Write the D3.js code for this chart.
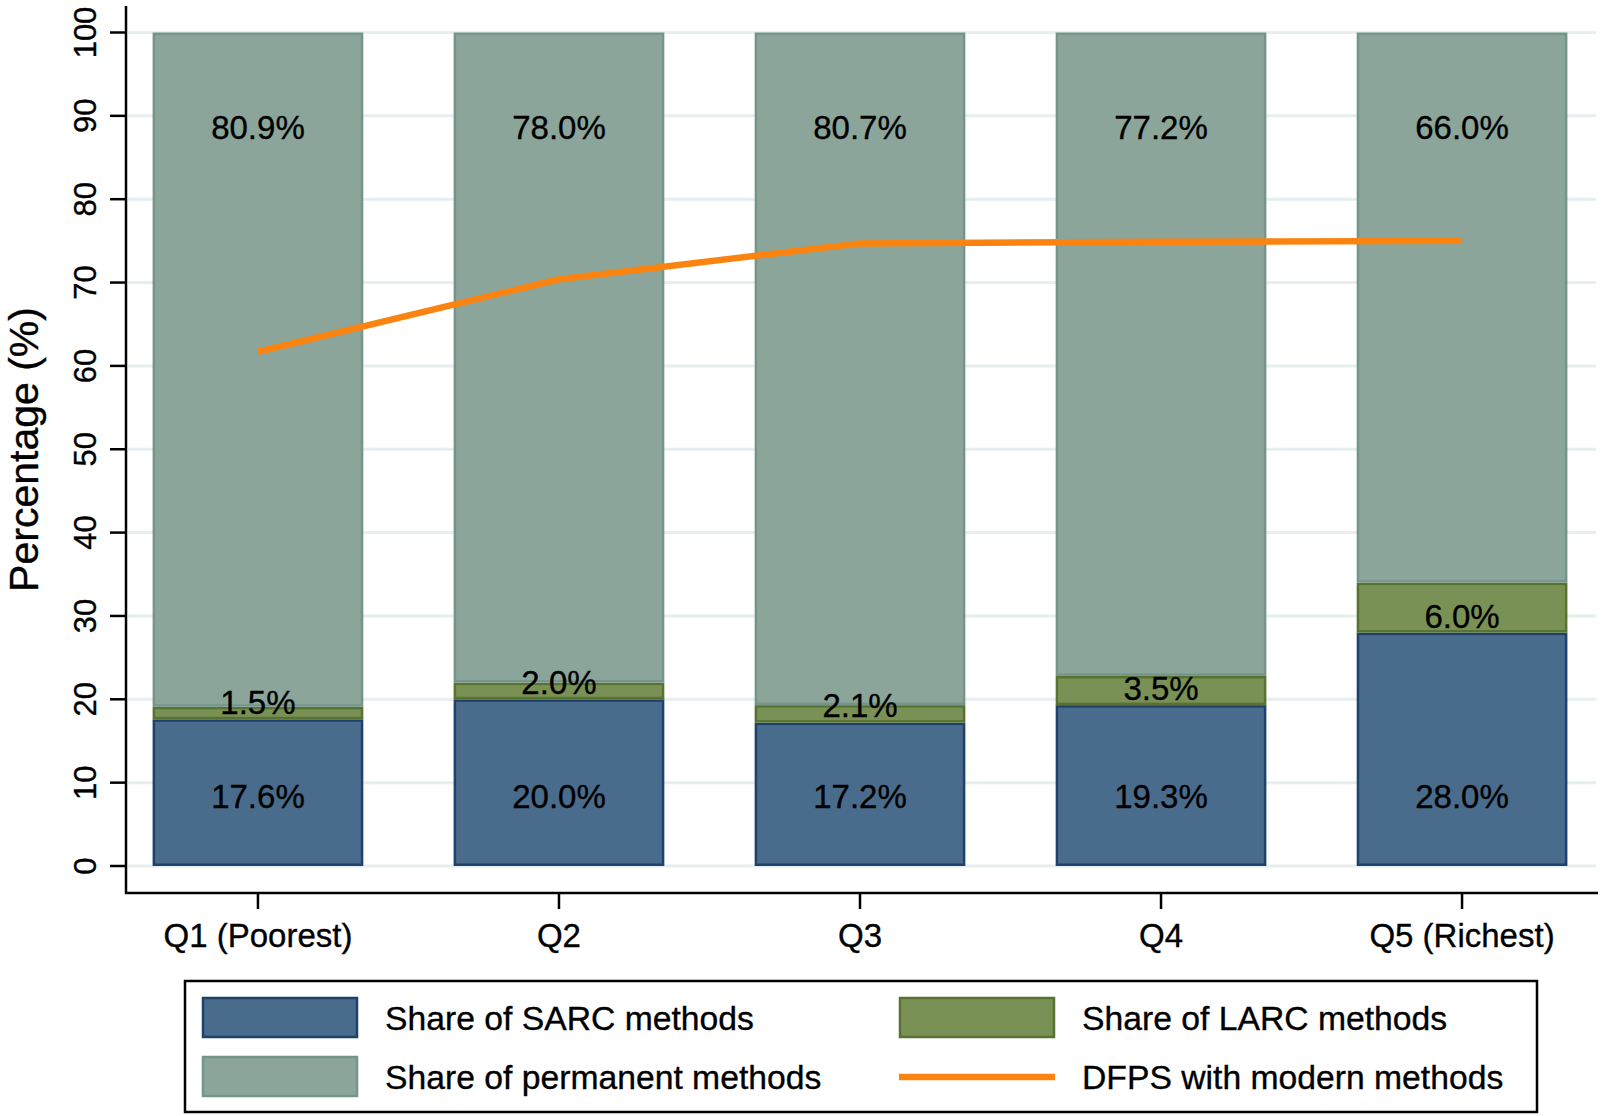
<!DOCTYPE html>
<html>
<head>
<meta charset="utf-8">
<script src="https://cdn.jsdelivr.net/npm/d3@7"></script>
<style>
  html, body { margin: 0; padding: 0; background: #ffffff; }
  svg { display: block; }
  text { font-family: "Liberation Sans", Arial, Helvetica, sans-serif; fill: #000; stroke: #000; stroke-width: 0.35px; }
</style>
</head>
<body>
<svg id="chart" width="1601" height="1116"></svg>
<script>
// ---- Data ----
const categories = ["Q1 (Poorest)", "Q2", "Q3", "Q4", "Q5 (Richest)"];
const sarcShare = [17.6, 20.0, 17.2, 19.3, 28.0];
const larcShare = [1.5, 2.0, 2.1, 3.5, 6.0];
const permanentShare = [80.9, 78.0, 80.7, 77.2, 66.0];
const dfpsModern = [61.7, 70.4, 74.7, 74.9, 75.0];
const yTicks = [0, 10, 20, 30, 40, 50, 60, 70, 80, 90, 100];
// label anchor values (data units) as placed in the original figure
const sarcLabelAt = 8.4;
const permanentLabelAt = 88.6;
const larcLabelAt = [19.7, 22.0, 19.3, 21.3, 30.0];
const legendItems = [
  { label: "Share of SARC methods", type: "bar", key: "sarc" },
  { label: "Share of LARC methods", type: "bar", key: "larc" },
  { label: "Share of permanent methods", type: "bar", key: "perm" },
  { label: "DFPS with modern methods", type: "line", key: "dfps" }
];

// ---- Styles ----
const fills = { sarc: "#496b8c", larc: "#7a9156", perm: "#8ba59a" };
const strokes = { sarc: "#1f426c", larc: "#587330", perm: "#76958a" };
const lineColor = "#fb8411";
const gridColor = "#e7eef0";

const svg = d3.select("#chart");

const y = d3.scaleLinear().domain([0, 100]).range([866, 32.5]);
const x = d3.scaleBand().domain(categories).range([124, 1596])
  .paddingInner(0.3).paddingOuter(0.095);

// gridlines
svg.append("g").selectAll("line").data(yTicks).join("line")
  .attr("x1", 128).attr("x2", 1596)
  .attr("y1", d => y(d)).attr("y2", d => y(d))
  .attr("stroke", gridColor).attr("stroke-width", 3);

// stacked data
const rows = categories.map((c, i) => ({
  cat: c, sarc: sarcShare[i], larc: larcShare[i], perm: permanentShare[i]
}));
const stack = d3.stack().keys(["sarc", "larc", "perm"]);
const series = stack(rows);

const sw = 2.5;
svg.append("g").selectAll("g").data(series).join("g")
  .attr("fill", s => fills[s.key])
  .attr("stroke", s => strokes[s.key])
  .attr("stroke-width", sw)
  .selectAll("rect").data(s => s).join("rect")
  .attr("x", d => x(d.data.cat) + sw / 2)
  .attr("width", x.bandwidth() - sw)
  .attr("y", d => y(d[1]) + sw / 2)
  .attr("height", d => Math.max(0, y(d[0]) - y(d[1]) - sw));

// line
const line = d3.line()
  .x((d, i) => x(categories[i]) + x.bandwidth() / 2)
  .y(d => y(d));
svg.append("path").datum(dfpsModern)
  .attr("d", line)
  .attr("fill", "none")
  .attr("stroke", lineColor)
  .attr("stroke-width", 6.5)
  .attr("stroke-linejoin", "round");

// bar labels
const labelFont = 33;
const capOff = labelFont * 0.358;
const fmt = v => v.toFixed(1) + "%";
const lbl = svg.append("g").attr("font-size", labelFont).attr("text-anchor", "middle");
categories.forEach((c, i) => {
  const cx = x(c) + x.bandwidth() / 2;
  lbl.append("text").attr("x", cx).attr("y", y(permanentLabelAt) + capOff).text(fmt(permanentShare[i]));
  lbl.append("text").attr("x", cx).attr("y", y(sarcLabelAt) + capOff).text(fmt(sarcShare[i]));
  lbl.append("text").attr("x", cx).attr("y", y(larcLabelAt[i]) + capOff).text(fmt(larcShare[i]));
});

// y axis
svg.append("line").attr("x1", 126).attr("x2", 126).attr("y1", 6).attr("y2", 894)
  .attr("stroke", "#000").attr("stroke-width", 2.5);
const yAxisG = svg.append("g");
yAxisG.selectAll("line").data(yTicks).join("line")
  .attr("x1", 110).attr("x2", 126)
  .attr("y1", d => y(d)).attr("y2", d => y(d))
  .attr("stroke", "#000").attr("stroke-width", 2.5);
yAxisG.selectAll("text").data(yTicks).join("text")
  .attr("transform", d => `translate(96,${y(d)}) rotate(-90)`)
  .attr("text-anchor", "middle")
  .attr("font-size", 31)
  .text(d => d);

svg.append("text")
  .attr("transform", `translate(38,449.5) rotate(-90)`)
  .attr("text-anchor", "middle")
  .attr("font-size", 41)
  .text("Percentage (%)");

// x axis
svg.append("line").attr("x1", 125).attr("x2", 1598).attr("y1", 893).attr("y2", 893)
  .attr("stroke", "#000").attr("stroke-width", 2.5);
const xAxisG = svg.append("g");
categories.forEach(c => {
  const cx = x(c) + x.bandwidth() / 2;
  xAxisG.append("line").attr("x1", cx).attr("x2", cx).attr("y1", 893).attr("y2", 909)
    .attr("stroke", "#000").attr("stroke-width", 2.5);
  xAxisG.append("text").attr("x", cx).attr("y", 947)
    .attr("text-anchor", "middle").attr("font-size", 33).text(c);
});

// legend
const lg = svg.append("g");
lg.append("rect").attr("x", 185).attr("y", 981).attr("width", 1352).attr("height", 131)
  .attr("fill", "#fff").attr("stroke", "#000").attr("stroke-width", 2.5);
const legendPos = [
  { sx: 202, ty: 1018 },
  { sx: 899, ty: 1018 },
  { sx: 202, ty: 1077 },
  { sx: 899, ty: 1077 }
];
legendItems.forEach((it, i) => {
  const p = legendPos[i];
  if (it.type === "bar") {
    lg.append("rect").attr("x", p.sx + 1).attr("y", p.ty - 20).attr("width", 154).attr("height", 39)
      .attr("fill", fills[it.key]).attr("stroke", strokes[it.key]).attr("stroke-width", 2.5);
  } else {
    lg.append("line").attr("x1", p.sx).attr("x2", p.sx + 156).attr("y1", p.ty).attr("y2", p.ty)
      .attr("stroke", lineColor).attr("stroke-width", 6.5);
  }
  lg.append("text").attr("x", p.sx + 183).attr("y", p.ty + capOff)
    .attr("font-size", 33.7).text(it.label);
});
</script>
</body>
</html>
